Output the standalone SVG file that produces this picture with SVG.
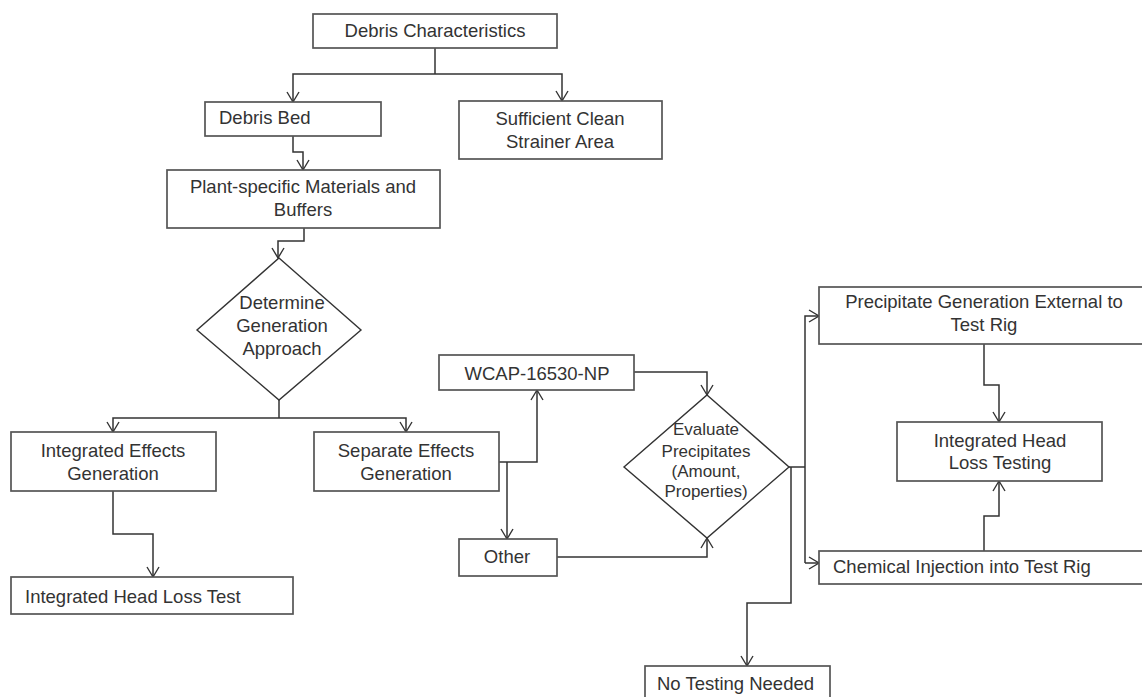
<svg xmlns="http://www.w3.org/2000/svg" width="1142" height="697" viewBox="0 0 1142 697">
<defs>
<marker id="arr" markerUnits="userSpaceOnUse" markerWidth="14" markerHeight="14" refX="11" refY="7" orient="auto">
<path d="M1,1 L11,7 L1,13" fill="none" stroke="#333" stroke-width="1.4"/>
</marker>
<style>
.box{fill:#fff;stroke:#555;stroke-width:1.7}
.dia{fill:#fff;stroke:#333;stroke-width:1.4}
.t{font-family:"Liberation Sans",Arial,sans-serif;font-size:18.5px;fill:#333}
.s{font-size:17px}
.m{text-anchor:middle}
.c{fill:none;stroke:#333;stroke-width:1.5}
</style>
</defs>
<rect width="1142" height="697" fill="#fff"/>
<g id="connectors">
<path class="c" d="M435,48 V74"/>
<path class="c" d="M435,74 H293 V102" marker-end="url(#arr)"/>
<path class="c" d="M435,74 H562 V101" marker-end="url(#arr)"/>
<path class="c" d="M293,136 V152 H303 V170" marker-end="url(#arr)"/>
<path class="c" d="M304,228 V241 H278 V258" marker-end="url(#arr)"/>
<path class="c" d="M279,400 V418"/>
<path class="c" d="M279,418 H113 V432" marker-end="url(#arr)"/>
<path class="c" d="M279,418 H406 V432" marker-end="url(#arr)"/>
<path class="c" d="M113,491 V534 H153 V577" marker-end="url(#arr)"/>
<path class="c" d="M499,462 H537 V390" marker-end="url(#arr)"/>
<path class="c" d="M507,462 V539" marker-end="url(#arr)"/>
<path class="c" d="M634,372 H707 V395" marker-end="url(#arr)"/>
<path class="c" d="M557,557 H707 V538" marker-end="url(#arr)"/>
<path class="c" d="M789,467 H805"/>
<path class="c" d="M805,563 V316 H819" marker-end="url(#arr)"/>
<path class="c" d="M805,563 H819" marker-end="url(#arr)"/>
<path class="c" d="M791,467 V603 H747 V666" marker-end="url(#arr)"/>
<path class="c" d="M984,344 V385 H999 V422" marker-end="url(#arr)"/>
<path class="c" d="M984,551 V516 H999 V481" marker-end="url(#arr)"/>
</g>
<g id="debris-characteristics">
<rect class="box" x="313" y="14" width="244" height="34"/>
<text class="t m" x="435" y="37">Debris Characteristics</text>
</g>
<g id="debris-bed">
<rect class="box" x="205" y="102" width="176" height="34"/>
<text class="t" x="219" y="124">Debris Bed</text>
</g>
<g id="sufficient-clean-strainer-area">
<rect class="box" x="459" y="101" width="203" height="58"/>
<text class="t m" x="560" y="125">Sufficient Clean</text>
<text class="t m" x="560" y="148">Strainer Area</text>
</g>
<g id="plant-specific">
<rect class="box" x="167" y="170" width="273" height="58"/>
<text class="t m" x="303" y="193">Plant-specific Materials and</text>
<text class="t m" x="303" y="216">Buffers</text>
</g>
<g id="determine-generation-approach">
<polygon class="dia" points="279,258 361,330 279,400 197,330"/>
<text class="t m" x="282" y="309">Determine</text>
<text class="t m" x="282" y="332">Generation</text>
<text class="t m" x="282" y="355">Approach</text>
</g>
<g id="integrated-effects-generation">
<rect class="box" x="11" y="432" width="205" height="59"/>
<text class="t m" x="113" y="457">Integrated Effects</text>
<text class="t m" x="113" y="480">Generation</text>
</g>
<g id="separate-effects-generation">
<rect class="box" x="314" y="432" width="185" height="59"/>
<text class="t m" x="406" y="457">Separate Effects</text>
<text class="t m" x="406" y="480">Generation</text>
</g>
<g id="integrated-head-loss-test">
<rect class="box" x="11" y="577" width="282" height="37"/>
<text class="t" x="25" y="603">Integrated Head Loss Test</text>
</g>
<g id="wcap">
<rect class="box" x="439" y="355" width="195" height="35"/>
<text class="t m" x="537" y="380">WCAP-16530-NP</text>
</g>
<g id="other">
<rect class="box" x="459" y="539" width="98" height="37"/>
<text class="t m" x="507" y="563">Other</text>
</g>
<g id="evaluate-precipitates">
<polygon class="dia" points="707,395 789,467 707,538 624,467"/>
<text class="t s m" x="706" y="435">Evaluate</text>
<text class="t s m" x="706" y="457">Precipitates</text>
<text class="t s m" x="706" y="477">(Amount,</text>
<text class="t s m" x="706" y="497">Properties)</text>
</g>
<g id="precipitate-generation-external">
<rect class="box" x="819" y="287" width="330" height="57"/>
<text class="t m" x="984" y="308">Precipitate Generation External to</text>
<text class="t m" x="984" y="331">Test Rig</text>
</g>
<g id="integrated-head-loss-testing">
<rect class="box" x="897" y="422" width="205" height="59"/>
<text class="t m" x="1000" y="447">Integrated Head</text>
<text class="t m" x="1000" y="469">Loss Testing</text>
</g>
<g id="chemical-injection">
<rect class="box" x="819" y="551" width="330" height="33"/>
<text class="t" x="833" y="573">Chemical Injection into Test Rig</text>
</g>
<g id="no-testing-needed">
<rect class="box" x="645" y="666" width="185" height="40"/>
<text class="t" x="657" y="690">No Testing Needed</text>
</g>
</svg>
